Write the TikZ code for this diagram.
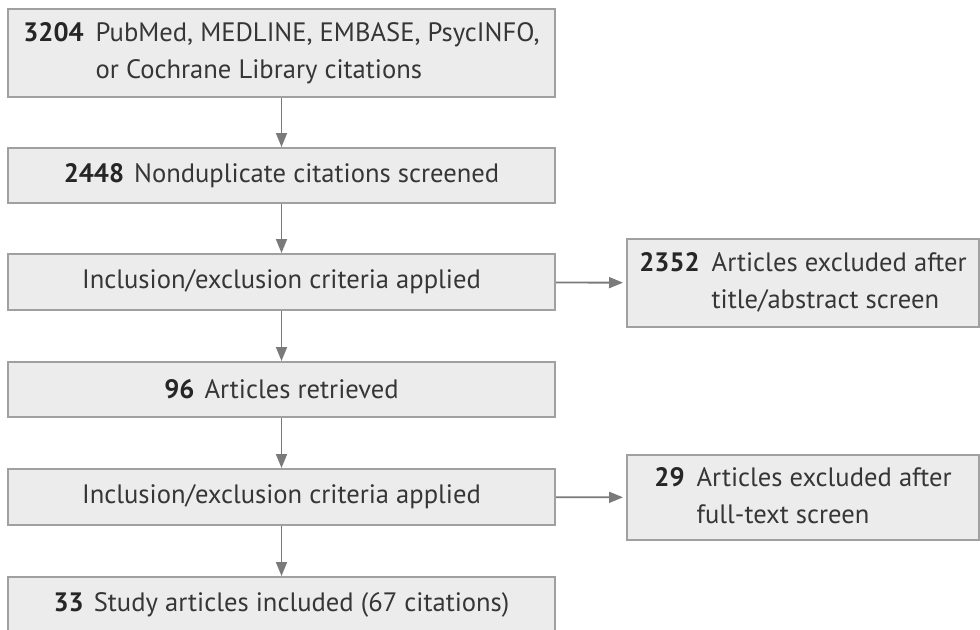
\documentclass[tikz,border=0pt]{standalone}
\usepackage{fontspec}
\setmainfont{PT Sans}
\usetikzlibrary{arrows.meta}
\definecolor{boxfill}{HTML}{ECECEC}
\definecolor{boxline}{HTML}{A0A0A0}
\definecolor{txt}{HTML}{363636}
\definecolor{num}{HTML}{262626}
\definecolor{arr}{HTML}{7A7A7A}
\newcommand{\nb}[1]{\textcolor{num}{\textbf{#1}}}
\begin{document}
\begin{tikzpicture}[x=0.5pt,y=-0.5pt,
  box/.style={draw=boxline, fill=boxfill, line width=1pt, inner sep=0pt,
    text=txt, align=center, font=\fontsize{13.3}{18.5}\selectfont},
  mainbox/.style={box, minimum width=273.5pt},
  sidebox/.style={box, minimum width=176pt},
  conn/.style={draw=arr, line width=0.9pt, -{Triangle[width=5.5pt,length=7pt]}}]
\clip (0,0) rectangle (980,629);
\node[mainbox, minimum height=44pt] (b1) at (281.5,53) {%
  \begin{tabular}{@{}l@{\hspace{6pt}}l@{}}\nb{3204} & PubMed, MEDLINE, EMBASE, PsycINFO,\\ & or Cochrane Library citations\end{tabular}};
\node[mainbox, minimum height=27.5pt] (b2) at (281.5,175.5) {\nb{2448}\hspace{5pt}Nonduplicate citations screened};
\node[mainbox, minimum height=28pt] (b3) at (281.5,282) {Inclusion/exclusion criteria applied};
\node[mainbox, minimum height=27.5pt] (b4) at (281.5,389.5) {\nb{96}\hspace{5pt}Articles retrieved};
\node[mainbox, minimum height=28pt] (b5) at (281.5,497) {Inclusion/exclusion criteria applied};
\node[mainbox, minimum height=28pt] (b6) at (281.5,605) {\nb{33}\hspace{5pt}Study articles included (67 citations)};
\node[sidebox, minimum height=44pt] (r1) at (803,283) {%
  \begin{tabular}{@{}l@{\hspace{6pt}}l@{}}\nb{2352} & Articles excluded after\\ & title/abstract screen\end{tabular}};
\node[sidebox, minimum height=42.5pt] (r2) at (803,497.5) {%
  \begin{tabular}{@{}l@{\hspace{6pt}}l@{}}\nb{29} & Articles excluded after\\ & full-text screen\end{tabular}};
\draw[conn] (b1) -- (b2);
\draw[conn] (b2) -- (b3);
\draw[conn] (b3) -- (b4);
\draw[conn] (b4) -- (b5);
\draw[conn] (b5) -- (b6);
\draw[conn, shorten >=1.5pt] (b3) -- (r1);
\draw[conn, shorten >=1.5pt] (b5) -- (r2);
\end{tikzpicture}
\end{document}
